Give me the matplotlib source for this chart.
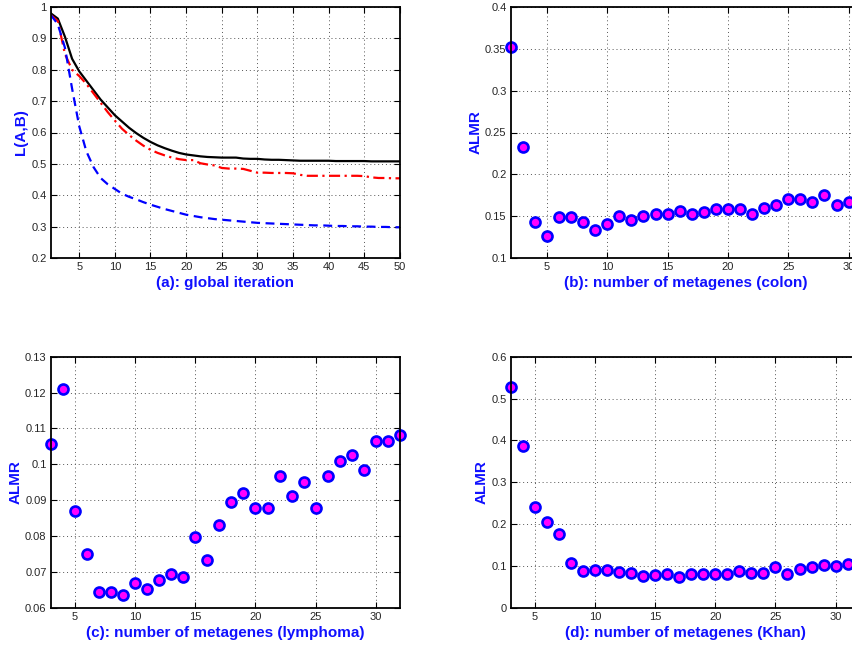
import numpy as np
import matplotlib.pyplot as plt
from matplotlib.ticker import FuncFormatter

plt.rcParams['font.family'] = ['Liberation Sans', 'DejaVu Sans']

# (a) global iteration curves
iters = list(range(1, 51))
curva_negra = [0.980, 0.963, 0.905, 0.835, 0.795, 0.765, 0.735, 0.705, 0.680, 0.655,
               0.635, 0.615, 0.598, 0.583, 0.570, 0.559, 0.550, 0.542, 0.535, 0.530,
               0.527, 0.524, 0.522, 0.521, 0.520, 0.520, 0.520, 0.517, 0.516, 0.516,
               0.514, 0.513, 0.513, 0.512, 0.511, 0.510, 0.510, 0.510, 0.510, 0.510,
               0.509, 0.509, 0.509, 0.509, 0.509, 0.508, 0.508, 0.508, 0.508, 0.508]
curva_roja = [0.975, 0.955, 0.850, 0.800, 0.780, 0.755, 0.725, 0.695, 0.665, 0.638,
              0.612, 0.592, 0.574, 0.558, 0.545, 0.535, 0.527, 0.520, 0.515, 0.512,
              0.512, 0.502, 0.498, 0.495, 0.487, 0.485, 0.485, 0.484, 0.478, 0.472,
              0.472, 0.471, 0.471, 0.471, 0.470, 0.465, 0.462, 0.462, 0.462, 0.462,
              0.462, 0.462, 0.462, 0.462, 0.461, 0.457, 0.455, 0.455, 0.454, 0.454]
curva_azul = [0.975, 0.945, 0.870, 0.740, 0.620, 0.540, 0.490, 0.455, 0.435, 0.420,
              0.405, 0.395, 0.387, 0.378, 0.370, 0.363, 0.356, 0.350, 0.344, 0.338,
              0.334, 0.330, 0.327, 0.324, 0.322, 0.320, 0.318, 0.316, 0.314, 0.312,
              0.311, 0.310, 0.309, 0.308, 0.307, 0.306, 0.305, 0.304, 0.304, 0.303,
              0.302, 0.302, 0.301, 0.301, 0.300, 0.300, 0.299, 0.299, 0.298, 0.298]

# (b) colon
k_colon = list(range(2, 31))
almr_colon = [0.352, 0.233, 0.143, 0.126, 0.149, 0.149, 0.143, 0.133, 0.141, 0.150,
              0.145, 0.150, 0.152, 0.152, 0.156, 0.153, 0.155, 0.158, 0.158, 0.158,
              0.152, 0.160, 0.163, 0.171, 0.170, 0.167, 0.175, 0.163, 0.167]

# (c) lymphoma
k_lymph = list(range(3, 33))
almr_lymph = [0.1056, 0.1210, 0.0871, 0.0750, 0.0645, 0.0645, 0.0636, 0.0669, 0.0653, 0.0677,
              0.0693, 0.0686, 0.0798, 0.0734, 0.0831, 0.0896, 0.0920, 0.0879, 0.0879, 0.0968,
              0.0911, 0.0951, 0.0879, 0.0968, 0.1008, 0.1025, 0.0984, 0.1065, 0.1065, 0.1082]

# (d) Khan
k_khan = list(range(3, 32))
almr_khan = [0.528, 0.387, 0.241, 0.206, 0.177, 0.106, 0.087, 0.089, 0.091, 0.085,
             0.083, 0.076, 0.077, 0.080, 0.073, 0.080, 0.081, 0.080, 0.080, 0.087,
             0.082, 0.084, 0.097, 0.081, 0.092, 0.098, 0.102, 0.100, 0.104]

W, H = 853, 648
fig = plt.figure(figsize=(W / 100, H / 100), dpi=100)

def caja(x0, y0, x1, y1):
    return [x0 / W, 1 - y1 / H, (x1 - x0) / W, (y1 - y0) / H]

def estilo(ax, xlabel, ylabel, xlim, ylim, xticks, yticks):
    ax.set_xlim(*xlim)
    ax.set_ylim(*ylim)
    ax.set_xticks(xticks)
    ax.set_yticks(yticks)
    ax.yaxis.set_major_formatter(FuncFormatter(lambda v, p: ('%g' % round(v, 4))))
    ax.grid(True, linestyle=(0, (1, 3)), color='#555555', linewidth=0.7)
    ax.tick_params(direction='in', length=4, width=0.8, top=True, right=True,
                   labelsize=8, colors='black', labelcolor='#262626', pad=3)
    for s in ax.spines.values():
        s.set_linewidth(1.3)
    ax.set_xlabel(xlabel, color='#1010ff', fontsize=11, fontweight='bold', labelpad=3)
    ax.set_ylabel(ylabel, color='#1010ff', fontsize=11, fontweight='bold', labelpad=2)

# panel (a)
ax1 = fig.add_axes(caja(50.7, 7, 400, 258))
ax1.plot(iters, curva_negra, color='black', linewidth=1.6)
ax1.plot(iters, curva_roja, color='red', linewidth=1.6, linestyle=(0, (5, 2, 1, 2)))
ax1.plot(iters, curva_azul, color='#0000ff', linewidth=1.6, linestyle=(0, (4, 2.5)))
estilo(ax1, '(a): global iteration', 'L(A,B)', (1, 50), (0.2, 1.0),
       np.arange(5, 51, 5), np.arange(0.2, 1.01, 0.1))

marcador = dict(linestyle='none', marker='o', markersize=7.2, markerfacecolor='#ff00ff',
                markeredgecolor='#0000ff', markeredgewidth=1.9, clip_on=False)

# panel (b)
ax2 = fig.add_axes(caja(510.7, 7, 860.7, 258))
ax2.plot(k_colon, almr_colon, **marcador)
estilo(ax2, '(b): number of metagenes (colon)', 'ALMR', (2, 31), (0.1, 0.4),
       np.arange(5, 31, 5), np.arange(0.1, 0.401, 0.05))

# panel (c)
ax3 = fig.add_axes(caja(50.7, 356.7, 400, 607.7))
ax3.plot(k_lymph, almr_lymph, **marcador)
estilo(ax3, '(c): number of metagenes (lymphoma)', 'ALMR', (3, 32), (0.06, 0.13),
       np.arange(5, 31, 5), np.arange(0.06, 0.1301, 0.01))

# panel (d)
ax4 = fig.add_axes(caja(510.7, 356.7, 859.7, 607.7))
ax4.plot(k_khan, almr_khan, **marcador)
estilo(ax4, '(d): number of metagenes (Khan)', 'ALMR', (3, 32), (0.0, 0.6),
       np.arange(5, 31, 5), np.arange(0.0, 0.601, 0.1))

fig.savefig('out.png', dpi=100)
